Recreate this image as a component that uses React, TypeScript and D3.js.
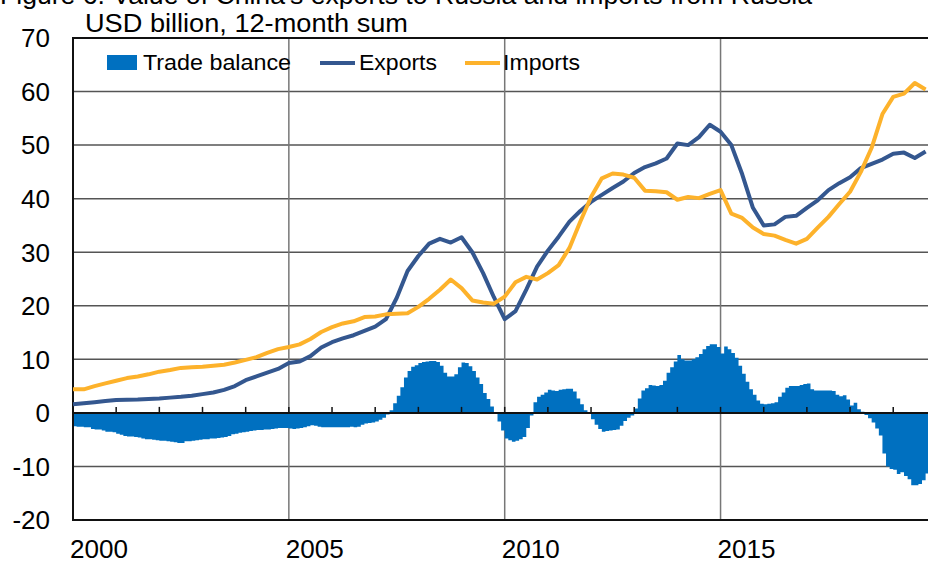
import React, { useEffect, useRef } from 'react';
import * as d3 from 'd3';

// monthly trade balance, Jan 2000 .. Oct 2019 (USD bn, 12-month sum)
const tradeBalance = [
  -2.5, -2.6, -2.6, -2.7, -2.7, -3.0, -3.1, -3.1, -3.3, -3.5, -3.5, -3.6, // 2000
  -3.9, -4.1, -4.3, -4.4, -4.4, -4.5, -4.6, -4.8, -4.9, -4.9, -5.0, -5.1, // 2001
  -5.2, -5.2, -5.3, -5.4, -5.5, -5.6, -5.6, -5.3, -5.3, -5.2, -5.1, -5.0, // 2002
  -4.9, -4.9, -4.8, -4.8, -4.7, -4.6, -4.5, -4.3, -4.0, -3.9, -3.7, -3.6, // 2003
  -3.5, -3.4, -3.3, -3.2, -3.2, -3.1, -3.1, -3.0, -2.9, -2.8, -2.8, -2.8, // 2004
  -2.9, -3.0, -2.9, -2.8, -2.7, -2.5, -2.3, -2.4, -2.6, -2.7, -2.7, -2.7, // 2005
  -2.7, -2.7, -2.7, -2.7, -2.7, -2.6, -2.7, -2.6, -2.2, -2.0, -1.9, -1.8, // 2006
  -1.6, -1.3, -0.9, -0.3, 0.5, 1.8, 3.2, 4.8, 6.6, 7.8, 8.6, 8.9, // 2007
  9.3, 9.5, 9.6, 9.7, 9.7, 9.5, 8.8, 7.5, 6.8, 6.8, 7.2, 8.5, // 2008
  9.4, 9.3, 8.7, 7.8, 6.6, 5.4, 3.7, 2.6, 1.2, -0.2, -1.6, -3.3, // 2009
  -4.8, -5.1, -5.4, -5.2, -4.9, -4.5, -2.8, -0.5, 2.0, 3.0, 3.4, 3.8, // 2010
  4.3, 4.2, 4.1, 4.3, 4.4, 4.5, 4.5, 4.0, 2.7, 1.6, 0.5, -0.2, // 2011
  -1.2, -2.2, -3.0, -3.5, -3.4, -3.3, -3.2, -3.1, -2.4, -1.5, -0.9, -0.5, // 2012
  0.8, 2.7, 4.2, 4.6, 5.2, 5.1, 5.0, 5.2, 6.0, 7.5, 8.5, 9.6, // 2013
  10.8, 10.0, 9.8, 9.8, 10.0, 10.4, 11.0, 11.9, 12.5, 12.8, 12.8, 12.3, // 2014
  11.1, 12.4, 11.9, 11.2, 10.3, 8.8, 7.3, 5.8, 4.4, 3.4, 2.3, 1.7, // 2015
  1.6, 1.7, 1.8, 2.0, 3.0, 3.8, 4.7, 5.0, 5.0, 5.0, 5.2, 5.4, // 2016
  5.5, 4.4, 4.2, 4.2, 4.2, 4.2, 4.2, 4.1, 3.4, 3.1, 3.3, 2.5, // 2017
  1.4, 1.9, 0.7, 0.2, -0.4, -1.0, -1.8, -2.9, -4.2, -7.6, -10.0, -10.5, // 2018
  -10.6, -11.4, -11.1, -11.8, -12.4, -13.5, -13.5, -13.3, -12.6, -11.3, // 2019
];

// quarterly readings (Jan, Apr, Jul, Oct), 2000 .. 2019
const exportsQ = [
  1.6, 1.8, 2.0, 2.2,
  2.4, 2.45, 2.5, 2.6,
  2.7, 2.85, 3.0, 3.2,
  3.5, 3.8, 4.3, 5.0,
  6.1, 6.8, 7.5, 8.2,
  9.3, 9.6, 10.6, 12.2,
  13.2, 13.9, 14.5, 15.3,
  16.1, 17.5, 21.5, 26.5,
  29.3, 31.6, 32.5, 31.8,
  32.8, 30.0, 26.1, 21.6,
  17.5, 19.0, 23.0, 27.3,
  30.3, 32.9, 35.7, 37.7,
  39.4, 40.7, 42.0, 43.2,
  44.8, 45.9, 46.6, 47.5,
  50.3, 50.0, 51.5, 53.8,
  52.5, 50.0, 44.6, 38.3,
  35.0, 35.2, 36.6, 36.8,
  38.3, 39.7, 41.6, 42.9,
  44.0, 45.7, 46.5, 47.3,
  48.4, 48.6, 47.6, 48.8,
];

const importsQ = [
  4.4, 4.4, 5.0, 5.5,
  6.0, 6.5, 6.8, 7.2,
  7.7, 8.0, 8.4, 8.5,
  8.6, 8.8, 9.0, 9.4,
  9.9, 10.4, 11.2, 11.9,
  12.3, 12.8, 13.8, 15.1,
  16.0, 16.7, 17.1, 17.9,
  18.0, 18.4, 18.5, 18.6,
  19.8, 21.3, 23.0, 24.9,
  23.3, 21.0, 20.6, 20.4,
  21.7, 24.4, 25.4, 24.9,
  26.1, 27.6, 30.8, 35.7,
  40.3, 43.8, 44.7, 44.5,
  43.9, 41.5, 41.4, 41.2,
  39.8, 40.3, 40.1, 40.9,
  41.6, 37.2, 36.4, 34.6,
  33.4, 33.1, 32.3, 31.6,
  32.5, 34.6, 36.6, 39.0,
  41.3, 45.0, 49.5, 55.8,
  59.0, 59.6, 61.6, 60.4,
];

const yTicks = [70, 60, 50, 40, 30, 20, 10, 0, -10, -20];
const yearLabels = [2000, 2005, 2010, 2015];
const gridYears = [2005, 2010, 2015];

const W = 928;
const H = 563;
const FONT = '"Liberation Sans", Arial, sans-serif';

const Chart = () => {
  const svgRef = useRef(null);

  useEffect(() => {
    const svg = d3.select(svgRef.current);
    svg.selectAll('*').remove();

    const left = 73, top = 38, bottom = 520;
    const x = d3.scaleLinear().domain([2000, 2020]).range([left, left + 20 * 43.17]);
    const y = d3.scaleLinear().domain([-20, 70]).range([bottom, top]);

    // title (cropped at top in the original)
    svg.append('text').attr('x', 0).attr('y', 4)
      .attr('font-family', FONT).attr('font-size', 25)
      .attr('textLength', 812).attr('lengthAdjust', 'spacingAndGlyphs')
      .text("Figure 6. Value of China's exports to Russia and imports from Russia");
    svg.append('text').attr('x', 85).attr('y', 32)
      .attr('font-family', FONT).attr('font-size', 25)
      .attr('textLength', 323).attr('lengthAdjust', 'spacingAndGlyphs')
      .text('USD billion, 12-month sum');

    // horizontal grid
    svg.append('g').selectAll('line')
      .data(yTicks.filter(d => d !== 0 && d !== 70 && d !== -20))
      .join('line')
      .attr('x1', left).attr('x2', W)
      .attr('y1', d => y(d)).attr('y2', d => y(d))
      .attr('stroke', '#555').attr('stroke-width', 1.5);

    // vertical grid
    svg.append('g').selectAll('line')
      .data(gridYears)
      .join('line')
      .attr('x1', d => x(d)).attr('x2', d => x(d))
      .attr('y1', top).attr('y2', bottom)
      .attr('stroke', '#777').attr('stroke-width', 1.5);

    // trade balance bars as one stepped area (no seams between months)
    const steps = [...tradeBalance, tradeBalance[tradeBalance.length - 1]];
    const barArea = d3.area<number>()
      .x((d, i) => x(2000 + i / 12))
      .y0(y(0))
      .y1(d => y(d))
      .curve(d3.curveStepAfter);
    svg.append('path').datum(steps)
      .attr('d', barArea)
      .attr('fill', '#0070C0');

    // zero line and year ticks
    svg.append('line').attr('x1', left).attr('x2', W)
      .attr('y1', y(0)).attr('y2', y(0))
      .attr('stroke', '#111').attr('stroke-width', 2);
    svg.append('g').selectAll('line')
      .data(d3.range(2001, 2020))
      .join('line')
      .attr('x1', d => x(d)).attr('x2', d => x(d))
      .attr('y1', y(0)).attr('y2', y(0) - 6)
      .attr('stroke', '#111').attr('stroke-width', 1.5);

    // frame: left, top, bottom
    svg.append('path')
      .attr('d', `M${W},${top}H${left}V${bottom}H${W}`)
      .attr('fill', 'none').attr('stroke', '#111').attr('stroke-width', 2);

    const line = d3.line<number>()
      .x((d, i) => x(2000 + i / 4))
      .y(d => y(d));

    svg.append('path').datum(exportsQ)
      .attr('d', line)
      .attr('fill', 'none').attr('stroke', '#34578F').attr('stroke-width', 4)
      .attr('stroke-linejoin', 'round');
    svg.append('path').datum(importsQ)
      .attr('d', line)
      .attr('fill', 'none').attr('stroke', '#FDB22B').attr('stroke-width', 4)
      .attr('stroke-linejoin', 'round');

    // y axis labels
    svg.append('g').selectAll('text')
      .data(yTicks)
      .join('text')
      .attr('x', 50).attr('y', d => y(d))
      .attr('dy', '0.36em')
      .attr('text-anchor', 'end')
      .attr('font-family', FONT).attr('font-size', 26)
      .text(d => d);

    // x labels
    svg.append('g').selectAll('text')
      .data(yearLabels)
      .join('text')
      .attr('x', d => x(d) - 3).attr('y', 558)
      .attr('font-family', FONT).attr('font-size', 25)
      .attr('textLength', 58).attr('lengthAdjust', 'spacingAndGlyphs')
      .text(d => d);

    // legend
    const lg = svg.append('g').attr('font-family', FONT).attr('font-size', 22);
    lg.append('rect').attr('x', 107).attr('y', 55).attr('width', 30).attr('height', 15).attr('fill', '#0070C0');
    lg.append('text').attr('x', 143).attr('y', 70)
      .attr('textLength', 148).attr('lengthAdjust', 'spacingAndGlyphs').text('Trade balance');
    lg.append('line').attr('x1', 320).attr('x2', 355).attr('y1', 63).attr('y2', 63)
      .attr('stroke', '#34578F').attr('stroke-width', 4);
    lg.append('text').attr('x', 359).attr('y', 70)
      .attr('textLength', 78).attr('lengthAdjust', 'spacingAndGlyphs').text('Exports');
    lg.append('line').attr('x1', 465).attr('x2', 500).attr('y1', 63).attr('y2', 63)
      .attr('stroke', '#FDB22B').attr('stroke-width', 4);
    lg.append('text').attr('x', 503).attr('y', 70)
      .attr('textLength', 77).attr('lengthAdjust', 'spacingAndGlyphs').text('Imports');
  }, []);

  return (
    <svg ref={svgRef} width={W} height={H}
      style={{ position: 'absolute', left: 0, top: 0, background: '#fff' }} />
  );
};

export default function App() {
  return <Chart />;
}
